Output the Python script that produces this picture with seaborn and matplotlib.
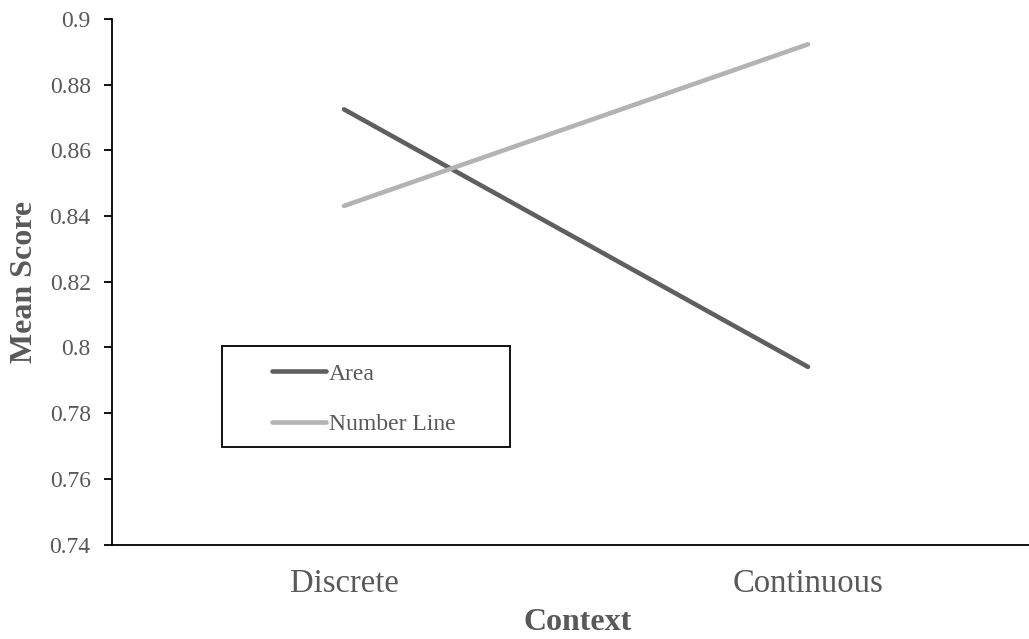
import matplotlib
matplotlib.use("Agg")
import matplotlib.pyplot as plt
from matplotlib.patches import Rectangle
import seaborn as sns
import pandas as pd

# Mean scores by context for each representation type
contexts = ["Discrete", "Continuous"]
area_scores = [0.8725, 0.7941]
number_line_scores = [0.8431, 0.8923]
series_names = ["Area", "Number Line"]
series_colors = ["#5f5f5f", "#b3b3b3"]
y_ticks = [0.74, 0.76, 0.78, 0.80, 0.82, 0.84, 0.86, 0.88, 0.90]
y_tick_labels = ["0.74", "0.76", "0.78", "0.8", "0.82", "0.84", "0.86", "0.88", "0.9"]

df = pd.DataFrame({
    "Context": contexts * 2,
    "Mean Score": area_scores + number_line_scores,
    "Type": [series_names[0]] * 2 + [series_names[1]] * 2,
})

sns.set_style("white")
plt.rcParams["font.family"] = ["Liberation Serif", "DejaVu Serif"]
text_gray = "#595959"

W, H = 1029, 639
fig = plt.figure(figsize=(W / 100, H / 100), dpi=100)
ax = fig.add_axes([112 / W, 1 - 544.6 / H, (1040 - 112) / W, (544.6 - 19) / H])

sns.lineplot(
    data=df, x="Context", y="Mean Score", hue="Type",
    palette=dict(zip(series_names, series_colors)),
    linewidth=3.3, solid_capstyle="round", sort=False,
    legend=False, ax=ax,
)

ax.set_xlim(-0.5, 1.5)
ax.set_ylim(0.74, 0.90)
ax.set_yticks(y_ticks)
ax.set_yticklabels(y_tick_labels)
ax.set_xticks([0, 1])
ax.set_xticklabels(contexts)

for side in ["top", "right"]:
    ax.spines[side].set_visible(False)
for side in ["left", "bottom"]:
    ax.spines[side].set_color("black")
    ax.spines[side].set_linewidth(1.3)

ax.tick_params(axis="y", direction="out", length=5.8, width=1.3, color="black",
               pad=9.5, labelsize=17, labelcolor=text_gray, left=True)
ax.tick_params(axis="x", length=0, pad=17, labelsize=23.5, labelcolor=text_gray)

ax.set_ylabel("Mean Score", fontsize=23, fontweight="bold", color=text_gray, va="center")
ax.yaxis.set_label_coords((25 - 112) / 928, 0.5)
ax.set_xlabel("Context", fontsize=23, fontweight="bold", color=text_gray, va="center")
ax.xaxis.set_label_coords((578 - 112) / 928, -(623 - 544.6) / (544.6 - 19))

# Legend: boxed, with wide left margin
box = Rectangle((222 / W, 1 - 447 / H), (510 - 222) / W, (447 - 346) / H,
                transform=fig.transFigure, fill=False, edgecolor="black",
                linewidth=1.3, zorder=5)
fig.patches.append(box)
handles = [plt.Line2D([], [], color=c, linewidth=3.3, solid_capstyle="round")
           for c in series_colors]
leg = fig.legend(handles, series_names, loc="upper left",
                 bbox_to_anchor=(272 / W, 1 - 363 / H), bbox_transform=fig.transFigure,
                 frameon=False, fontsize=17, handlelength=2.3, handletextpad=0.12,
                 labelspacing=1.22, borderpad=0, borderaxespad=0)
for t in leg.get_texts():
    t.set_color(text_gray)

fig.savefig("out.png", dpi=100)
